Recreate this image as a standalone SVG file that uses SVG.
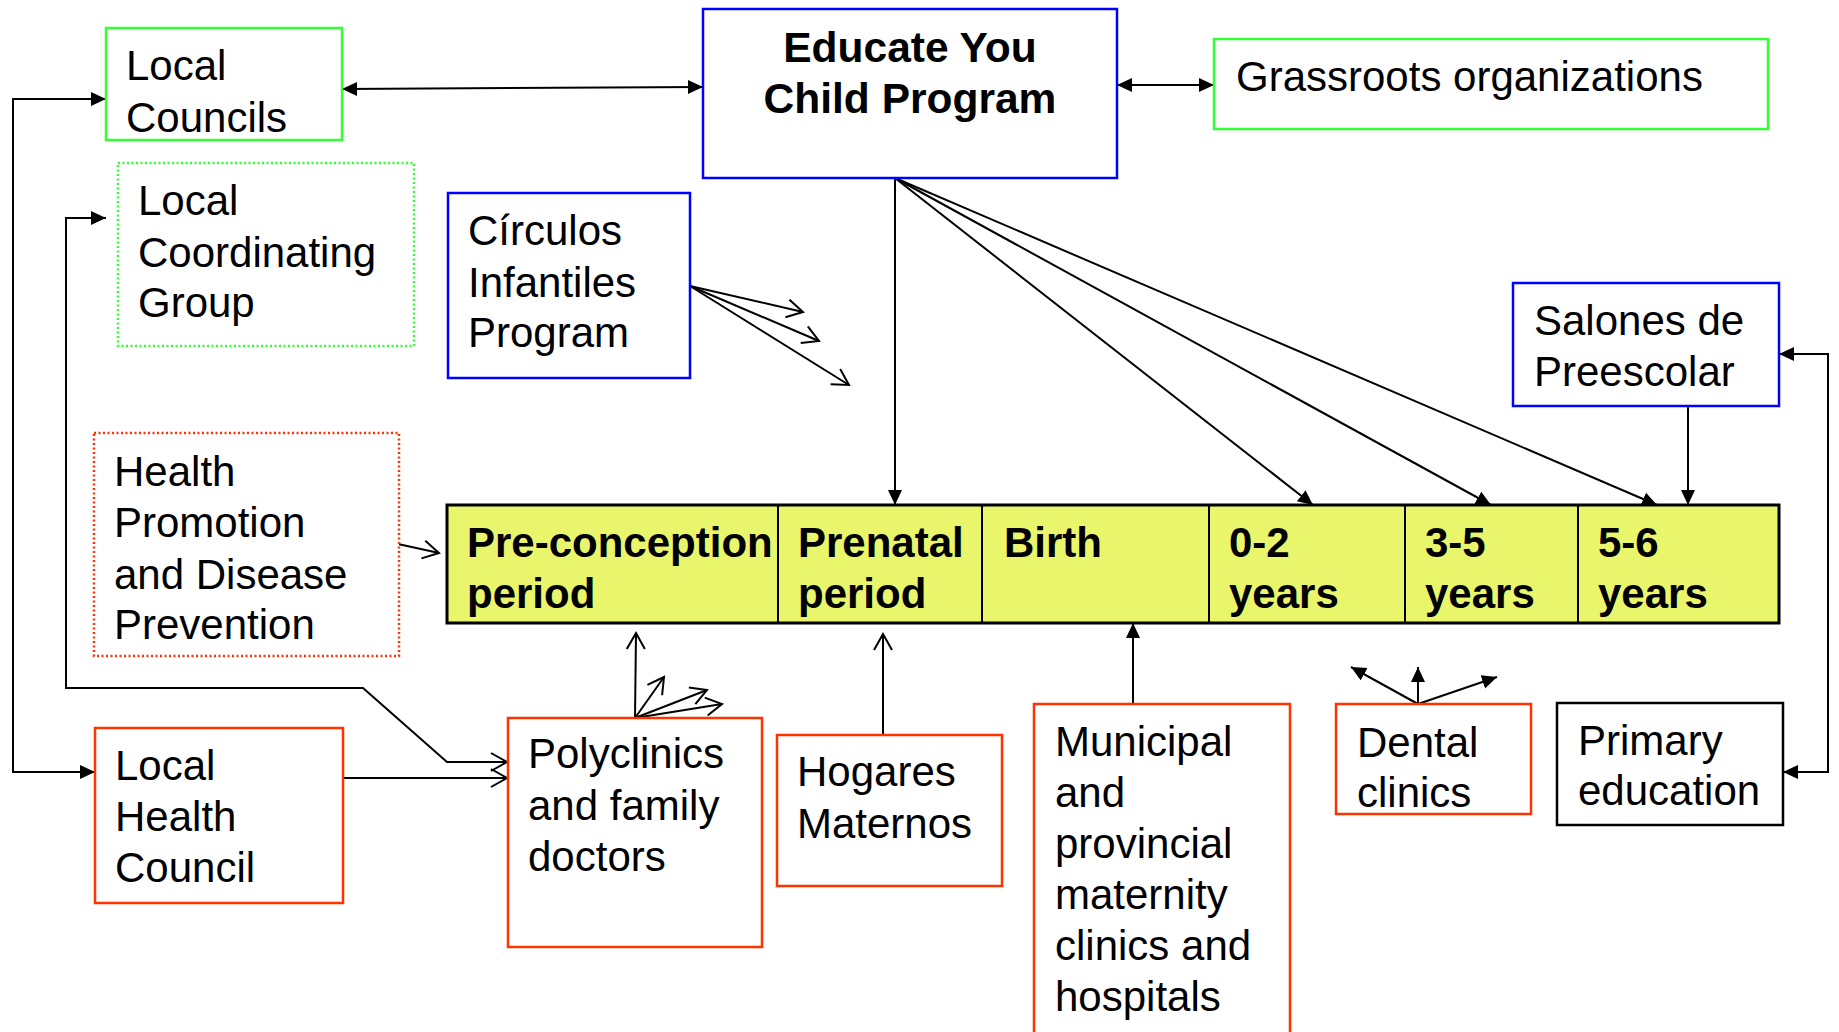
<svg xmlns="http://www.w3.org/2000/svg" width="1839" height="1032" viewBox="0 0 1839 1032">
<style>
  text { font-family: "Liberation Sans", Arial, sans-serif; font-size: 42px; fill: #000; }
  .b { font-weight: bold; }
  .t { font-size: 42.5px; }
  .box { fill: #fff; stroke-width: 2.5; }
  .green { stroke: #33ff33; }
  .blue { stroke: #0000ff; }
  .red { stroke: #ff3300; }
  .black { stroke: #000; }
  .dot { stroke-dasharray: 2 2.5; }
  .tl { fill: #e9f56b; stroke: #000; stroke-width: 3; }
  .div { stroke: #000; stroke-width: 2; }
  .c { fill: none; stroke: #000; stroke-width: 2; }
  .f { marker-end: url(#fill); }
  .o { marker-end: url(#open); }
  .fs { marker-start: url(#fill); }
</style>
<defs>
  <marker id="fill" markerUnits="userSpaceOnUse" markerWidth="16" markerHeight="16" refX="15" refY="7" orient="auto-start-reverse">
    <path d="M0,0 L15,7 L0,14 z" fill="#000"/>
  </marker>
  <marker id="open" markerUnits="userSpaceOnUse" markerWidth="20" markerHeight="22" refX="17" refY="10" orient="auto-start-reverse">
    <path d="M1,1 L17,10 L1,19" fill="none" stroke="#000" stroke-width="2"/>
  </marker>
</defs>

<g id="connectors">
  <path class="c f fs" d="M342,89 L703,87"/>
  <path class="c f fs" d="M1117,85 L1214,85"/>
  <path class="c f fs" d="M106,99 H13 V772 H95"/>
  <path class="c o fs" d="M106,218 H66 V688 H363 L447,762 H507"/>
  <path class="c o" d="M343,778 H507"/>
  <path class="c o" d="M398,544 L439,553"/>
  <path class="c o" d="M690,286 L803,312"/>
  <path class="c o" d="M690,286 L819,341"/>
  <path class="c o" d="M690,286 L849,385"/>
  <path class="c f" d="M895,178 L895,505"/>
  <path class="c f" d="M895,178 L1313,505"/>
  <path class="c f" d="M895,178 L1491,505"/>
  <path class="c f" d="M895,178 L1657,505"/>
  <path class="c f" d="M1688,406 L1688,505"/>
  <path class="c f fs" d="M1783,772 H1828 V354 H1779"/>
  <path class="c o" d="M635,718 L636,633"/>
  <path class="c o" d="M635,718 L664,677"/>
  <path class="c o" d="M635,718 L707,690"/>
  <path class="c o" d="M635,718 L722,704"/>
  <path class="c o" d="M883,735 L883,634"/>
  <path class="c f" d="M1133,704 L1133,623"/>
  <path class="c f" d="M1418,704 L1418,667"/>
  <path class="c f" d="M1418,704 L1351,667"/>
  <path class="c f" d="M1418,704 L1497,677"/>
</g>

<g id="local-councils">
  <rect class="box green" x="106" y="28" width="236" height="112"/>
  <text x="126" y="80">Local</text>
  <text x="126" y="132">Councils</text>
</g>

<g id="educate-you-child-program">
  <rect class="box blue" x="703" y="9" width="414" height="169"/>
  <text class="b t" x="910" y="62" text-anchor="middle">Educate You</text>
  <text class="b t" x="910" y="113" text-anchor="middle">Child Program</text>
</g>

<g id="grassroots-organizations">
  <rect class="box green" x="1214" y="39" width="554" height="90"/>
  <text x="1236" y="91">Grassroots organizations</text>
</g>

<g id="local-coordinating-group">
  <rect class="box green dot" x="118" y="163" width="296" height="183"/>
  <text x="138" y="215">Local</text>
  <text x="138" y="267">Coordinating</text>
  <text x="138" y="317">Group</text>
</g>

<g id="circulos-infantiles-program">
  <rect class="box blue" x="448" y="193" width="242" height="185"/>
  <text x="468" y="245">Círculos</text>
  <text x="468" y="297">Infantiles</text>
  <text x="468" y="347">Program</text>
</g>

<g id="salones-de-preescolar">
  <rect class="box blue" x="1513" y="283" width="266" height="123"/>
  <text x="1534" y="335">Salones de</text>
  <text x="1534" y="386">Preescolar</text>
</g>

<g id="health-promotion">
  <rect class="box red dot" x="94" y="433" width="305" height="223"/>
  <text x="114" y="486">Health</text>
  <text x="114" y="537">Promotion</text>
  <text x="114" y="589">and Disease</text>
  <text x="114" y="639">Prevention</text>
</g>

<g id="timeline">
  <rect class="tl" x="447" y="505" width="1332" height="118"/>
  <line class="div" x1="778" y1="505" x2="778" y2="623"/>
  <line class="div" x1="982" y1="505" x2="982" y2="623"/>
  <line class="div" x1="1209" y1="505" x2="1209" y2="623"/>
  <line class="div" x1="1405" y1="505" x2="1405" y2="623"/>
  <line class="div" x1="1578" y1="505" x2="1578" y2="623"/>
  <g id="pre-conception-period">
    <text class="b" x="467" y="557">Pre-conception</text>
    <text class="b" x="467" y="608">period</text>
  </g>
  <g id="prenatal-period">
    <text class="b" x="798" y="557">Prenatal</text>
    <text class="b" x="798" y="608">period</text>
  </g>
  <g id="birth">
    <text class="b" x="1004" y="557">Birth</text>
  </g>
  <g id="years-0-2">
    <text class="b" x="1229" y="557">0-2</text>
    <text class="b" x="1229" y="608">years</text>
  </g>
  <g id="years-3-5">
    <text class="b" x="1425" y="557">3-5</text>
    <text class="b" x="1425" y="608">years</text>
  </g>
  <g id="years-5-6">
    <text class="b" x="1598" y="557">5-6</text>
    <text class="b" x="1598" y="608">years</text>
  </g>
</g>

<g id="local-health-council">
  <rect class="box red" x="95" y="728" width="248" height="175"/>
  <text x="115" y="780">Local</text>
  <text x="115" y="831">Health</text>
  <text x="115" y="882">Council</text>
</g>

<g id="polyclinics">
  <rect class="box red" x="508" y="718" width="254" height="229"/>
  <text x="528" y="768">Polyclinics</text>
  <text x="528" y="820">and family</text>
  <text x="528" y="871">doctors</text>
</g>

<g id="hogares-maternos">
  <rect class="box red" x="777" y="735" width="225" height="151"/>
  <text x="797" y="786">Hogares</text>
  <text x="797" y="838">Maternos</text>
</g>

<g id="municipal-maternity">
  <rect class="box red" x="1034" y="704" width="256" height="345"/>
  <text x="1055" y="756">Municipal</text>
  <text x="1055" y="807">and</text>
  <text x="1055" y="858">provincial</text>
  <text x="1055" y="909">maternity</text>
  <text x="1055" y="960">clinics and</text>
  <text x="1055" y="1011">hospitals</text>
</g>

<g id="dental-clinics">
  <rect class="box red" x="1336" y="704" width="195" height="110"/>
  <text x="1357" y="757">Dental</text>
  <text x="1357" y="807">clinics</text>
</g>

<g id="primary-education">
  <rect class="box black" x="1557" y="703" width="226" height="122"/>
  <text x="1578" y="755">Primary</text>
  <text x="1578" y="805">education</text>
</g>
</svg>
